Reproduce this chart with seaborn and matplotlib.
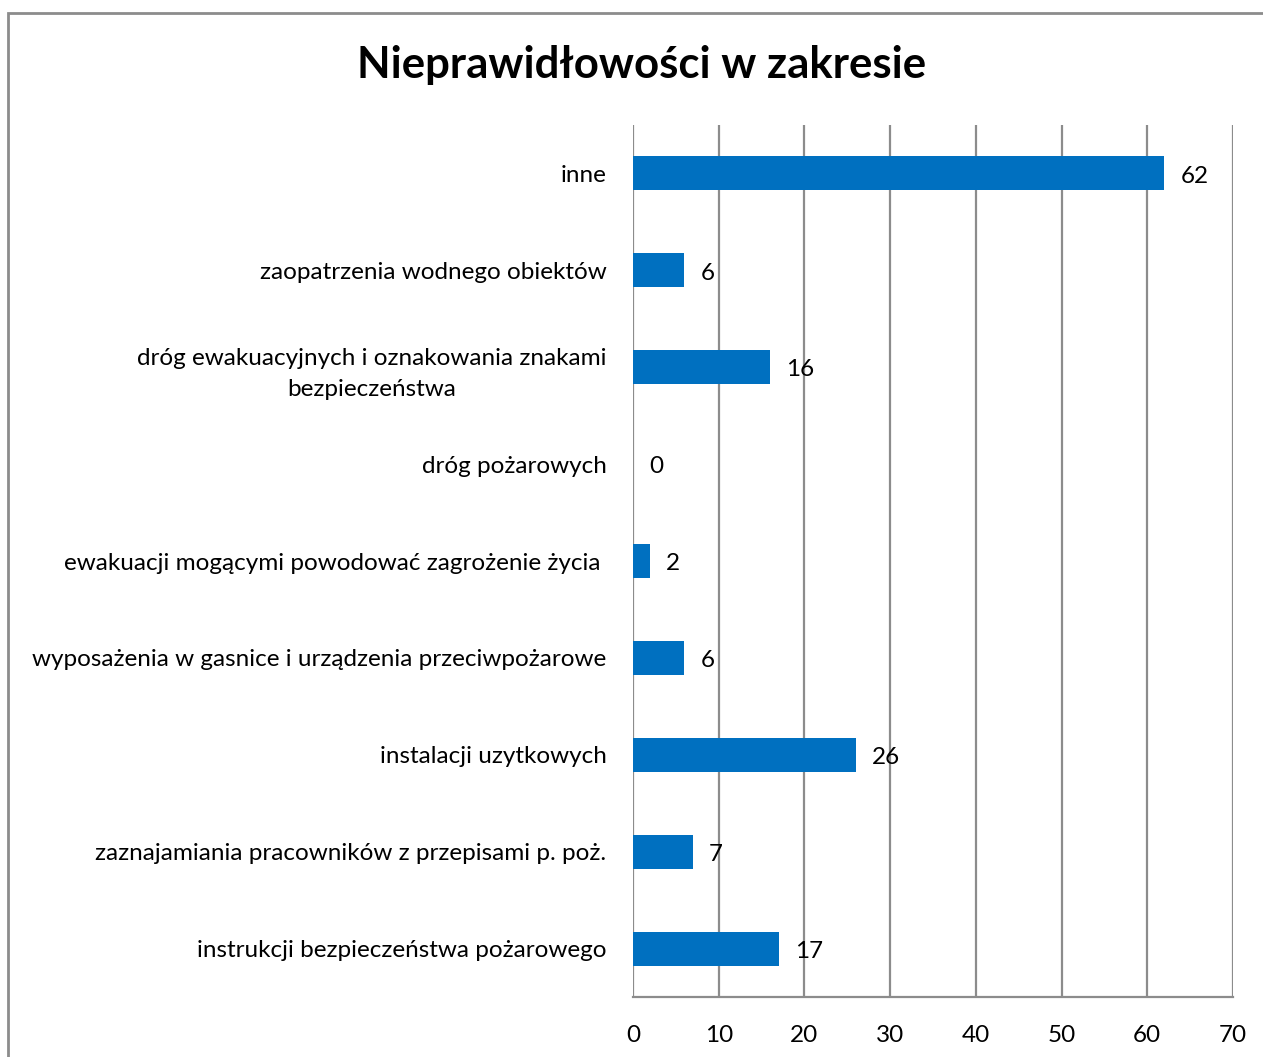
import matplotlib
matplotlib.use("Agg")
import matplotlib.pyplot as plt
import seaborn as sns
import pandas as pd
from matplotlib.patches import Rectangle

categories = [
    "inne",
    "zaopatrzenia wodnego obiektów",
    "dróg ewakuacyjnych i oznakowania znakami\nbezpieczeństwa",
    "dróg pożarowych",
    "ewakuacji mogącymi powodować zagrożenie życia ",
    "wyposażenia w gasnice i urządzenia przeciwpożarowe",
    "instalacji uzytkowych",
    "zaznajamiania pracowników z przepisami p. poż.",
    "instrukcji bezpieczeństwa pożarowego",
]
values = [62, 6, 16, 0, 2, 6, 26, 7, 17]
xticks = [0, 10, 20, 30, 40, 50, 60, 70]
title = "Nieprawidłowości w zakresie"

sns.set_theme(style="white")
plt.rcParams['font.family'] = ['Lato', 'DejaVu Sans']

df = pd.DataFrame({"kategoria": categories, "wartosc": values})

fig = plt.figure(figsize=(12.63, 10.57), dpi=100)
ax = fig.add_axes([633/1263, 60/1057, 600/1263, 872/1057])

sns.barplot(data=df, y="kategoria", x="wartosc", orient="h", color="#0070C0",
            width=0.35, saturation=1, ax=ax, order=categories, linewidth=0)

fs = 17.5
ax.set_xlim(0, 70)
ax.set_xticks(xticks)
ax.set_xticklabels([str(t) for t in xticks], fontsize=fs, color="#000000")
ax.tick_params(axis="x", length=0, pad=20)
ax.tick_params(axis="y", length=0, pad=19)
for lab in ax.get_yticklabels():
    lab.set_fontsize(fs)
    lab.set_color("#000000")
    lab.set_multialignment("center")
    lab.set_linespacing(1.55)
ax.set_xlabel("")
ax.set_ylabel("")
ax.xaxis.grid(True, color="#8c8c8c", linewidth=1.6)
ax.yaxis.grid(False)
ax.set_axisbelow(True)
for s in ["top", "right", "left"]:
    ax.spines[s].set_visible(False)
ax.spines["bottom"].set_color("#8c8c8c")
ax.spines["bottom"].set_linewidth(1.6)

for i, v in enumerate(values):
    ax.annotate(str(v), xy=(v, i), xytext=(11.5, -2), textcoords="offset points",
                ha="left", va="center", fontsize=fs, color="#000000")

fig.text(642/1263, 1 - 65/1057, title, ha="center", va="center",
         fontsize=31.5, fontweight="bold", color="#000000")

fig.patches.append(Rectangle((8/1263, -0.1), 1.2, 1 - 13/1057 + 0.1,
                             transform=fig.transFigure, fill=False,
                             edgecolor="#8c8c8c", linewidth=2))

fig.savefig("out.png", dpi=100)
